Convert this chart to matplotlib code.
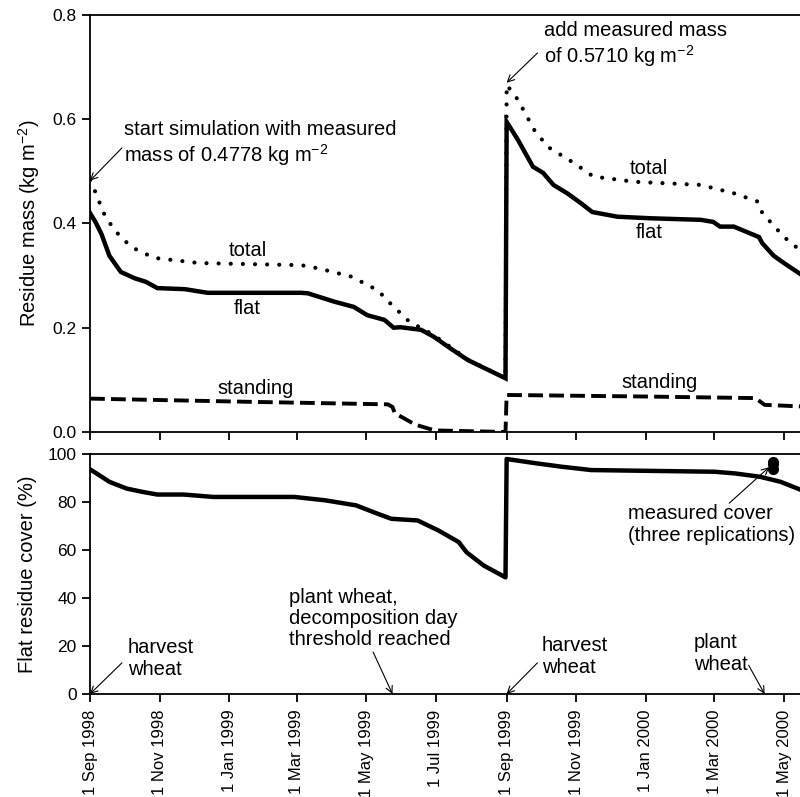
import numpy as np
import matplotlib
matplotlib.use("Agg")
import matplotlib.pyplot as plt
import matplotlib.dates as mdates

plt.rcParams['font.family'] = ['Liberation Sans', 'DejaVu Sans']
plt.rcParams['mathtext.fontset'] = 'custom'
plt.rcParams['mathtext.rm'] = 'Liberation Sans'
plt.rcParams['mathtext.it'] = 'Liberation Sans:italic'
plt.rcParams['mathtext.bf'] = 'Liberation Sans:bold'

# ---------------- data ----------------
flat_dates = ["1998-09-01", "1998-09-06", "1998-09-11", "1998-09-18", "1998-09-28", "1998-10-10",
              "1998-10-20", "1998-10-30", "1998-11-23", "1998-12-13", "1999-03-05", "1999-03-11",
              "1999-04-03", "1999-04-20", "1999-05-02", "1999-05-17", "1999-05-25", "1999-05-31",
              "1999-06-18", "1999-06-29", "1999-07-14", "1999-07-29", "1999-08-31", "1999-09-01",
              "1999-09-11", "1999-09-24", "1999-10-03", "1999-10-12", "1999-10-24", "1999-11-05",
              "1999-11-15", "1999-12-07", "2000-01-05", "2000-02-18", "2000-02-29", "2000-03-06",
              "2000-03-18", "2000-04-09", "2000-04-12", "2000-04-22", "2000-05-01", "2000-05-16"]
flat_mass = [0.420, 0.402, 0.380, 0.338, 0.307, 0.295,
             0.288, 0.276, 0.274, 0.267, 0.267, 0.266,
             0.250, 0.240, 0.224, 0.215, 0.200, 0.201,
             0.196, 0.183, 0.160, 0.138, 0.103, 0.595,
             0.560, 0.509, 0.497, 0.474, 0.458, 0.439,
             0.422, 0.413, 0.410, 0.407, 0.403, 0.394,
             0.394, 0.374, 0.362, 0.338, 0.324, 0.302]

total_dates = ["1998-09-01", "1998-09-05", "1998-09-13", "1998-09-22", "1998-10-07", "1998-10-27",
               "1998-12-06", "1999-03-05", "1999-03-20", "1999-04-18", "1999-05-11", "1999-05-25",
               "1999-05-31", "1999-06-09", "1999-06-18", "1999-06-29", "1999-07-29", "1999-08-31",
               "1999-09-01", "1999-09-11", "1999-09-25", "1999-10-07", "1999-10-30", "1999-11-16",
               "1999-12-22", "2000-02-18", "2000-03-18", "2000-04-08", "2000-04-12", "2000-05-01",
               "2000-05-16"]
total_mass = [0.483, 0.464, 0.420, 0.388, 0.355, 0.334,
              0.324, 0.320, 0.314, 0.298, 0.272, 0.240,
              0.228, 0.209, 0.200, 0.186, 0.139, 0.103,
              0.666, 0.637, 0.580, 0.547, 0.516, 0.490,
              0.480, 0.474, 0.458, 0.442, 0.420, 0.374,
              0.347]

standing_dates = ["1998-09-01", "1999-01-15", "1999-05-20", "1999-05-24", "1999-05-26", "1999-05-31",
                  "1999-06-13", "1999-06-30", "1999-08-31", "1999-09-01", "2000-01-01", "2000-04-06",
                  "2000-04-14", "2000-05-16"]
standing_mass = [0.064, 0.058, 0.053, 0.048, 0.036, 0.030,
                 0.014, 0.003, 0.000, 0.071, 0.068, 0.065,
                 0.052, 0.049]

cover_dates = ["1998-09-01", "1998-09-08", "1998-09-18", "1998-10-03", "1998-10-17", "1998-10-30",
               "1998-11-22", "1998-12-18", "1999-02-27", "1999-03-26", "1999-04-22", "1999-05-11",
               "1999-05-23", "1999-06-15", "1999-07-03", "1999-07-21", "1999-07-28", "1999-08-12",
               "1999-08-31", "1999-09-01", "1999-09-27", "1999-10-19", "1999-11-14", "1999-12-29",
               "2000-03-01", "2000-03-19", "2000-04-10", "2000-04-28", "2000-05-16"]
flat_cover = [93.6, 91.5, 88.4, 85.6, 84.2, 83.1,
              83.1, 82.1, 82.1, 80.7, 78.6, 75.1,
              73.0, 72.3, 68.2, 63.3, 59.0, 53.5,
              48.6, 97.9, 96.1, 94.7, 93.3, 93.0,
              92.6, 91.9, 90.5, 88.4, 85.0]

measured_dates = ["2000-04-21", "2000-04-21", "2000-04-21"]
measured_cover = [96.8, 96.0, 93.8]

tick_dates = ["1998-09-01", "1998-11-01", "1999-01-01", "1999-03-01", "1999-05-01", "1999-07-01",
              "1999-09-01", "1999-11-01", "2000-01-01", "2000-03-01", "2000-05-01"]
tick_labels = ["1 Sep 1998", "1 Nov 1998", "1 Jan 1999", "1 Mar 1999", "1 May 1999", "1 Jul 1999",
               "1 Sep 1999", "1 Nov 1999", "1 Jan 2000", "1 Mar 2000", "1 May 2000"]

mass_ticks = [0.0, 0.2, 0.4, 0.6, 0.8]
cover_ticks = [0, 20, 40, 60, 80, 100]

def d(s):
    return mdates.date2num(np.datetime64(s))

def dl(lst):
    return mdates.date2num(np.array(lst, dtype="datetime64[D]"))

# ---------------- figure ----------------
fig = plt.figure(figsize=(8.0, 7.97), dpi=100)
ax1 = fig.add_axes([0.1125, 0.4580, 0.8875, 0.5232])
ax2 = fig.add_axes([0.1125, 0.1292, 0.8875, 0.3012])

xmin, xmax = d("1998-09-01"), d("2000-05-15")

# top panel
ax1.plot(dl(total_dates), total_mass, color="black", lw=3.0,
         linestyle=(0, (0.01, 2.9)), dash_capstyle="round", solid_capstyle="round")
ax1.plot(dl(flat_dates), flat_mass, color="black", lw=3.2, solid_joinstyle="miter")
ax1.plot(dl(standing_dates), standing_mass, color="black", lw=2.8,
         linestyle=(0, (3.8, 1.6)), dash_capstyle="butt")

ax1.set_xlim(xmin, xmax)
ax1.set_ylim(0, 0.8)
ax1.set_yticks(mass_ticks)
ax1.set_yticklabels([f"{v:.1f}" for v in mass_ticks])
ax1.set_xticks(dl(tick_dates))
ax1.set_xticklabels([])
ax1.set_ylabel("Residue mass (kg m$^{-2}$)", fontsize=14.5, labelpad=8)

# bottom panel
ax2.plot(dl(cover_dates), flat_cover, color="black", lw=3.2)
ax2.plot(dl(measured_dates), measured_cover, "o", color="black", ms=7, clip_on=False)
ax2.set_xlim(xmin, xmax)
ax2.set_ylim(0, 100)
ax2.set_yticks(cover_ticks)
ax2.set_xticks(dl(tick_dates))
ax2.set_xticklabels(tick_labels, rotation=90)
ax2.set_ylabel("Flat residue cover (%)", fontsize=14.5, labelpad=8)

for ax in (ax1, ax2):
    ax.spines["right"].set_visible(False)
    for s in ("left", "top", "bottom"):
        ax.spines[s].set_linewidth(1.3)
    ax.tick_params(axis="both", direction="out", length=6, width=1.3, labelsize=12.5)
    ax.tick_params(axis="x", labelsize=12, pad=5)

FS = 14.5
# top annotations
arw = dict(arrowstyle="->", lw=0.8, color="black", shrinkA=0, shrinkB=0,
           mutation_scale=12)
ax1.annotate("", xy=(d("1998-09-01"), 0.482), xytext=(d("1998-09-29"), 0.545), arrowprops=arw)
ax1.text(d("1998-10-01"), 0.553, "start simulation with measured\nmass of 0.4778 kg m$^{-2}$",
         fontsize=FS, ha="left", va="center", linespacing=1.15)
ax1.annotate("", xy=(d("1999-09-01"), 0.670), xytext=(d("1999-09-28"), 0.727), arrowprops=arw)
ax1.text(d("1999-10-04"), 0.742, "add measured mass\nof 0.5710 kg m$^{-2}$",
         fontsize=FS, ha="left", va="center", linespacing=1.15)

ax1.text(d("1999-01-17"), 0.349, "total", fontsize=FS, ha="center", va="center")
ax1.text(d("1999-01-17"), 0.237, "flat", fontsize=FS, ha="center", va="center")
ax1.text(d("1999-01-24"), 0.084, "standing", fontsize=FS, ha="center", va="center")
ax1.text(d("2000-01-04"), 0.506, "total", fontsize=FS, ha="center", va="center")
ax1.text(d("2000-01-04"), 0.383, "flat", fontsize=FS, ha="center", va="center")
ax1.text(d("2000-01-13"), 0.094, "standing", fontsize=FS, ha="center", va="center")

# bottom annotations
ax2.annotate("", xy=(d("1998-09-01"), 0), xytext=(d("1998-09-29"), 13.0), arrowprops=arw)
ax2.text(d("1998-10-04"), 15.0, "harvest\nwheat", fontsize=FS, ha="left", va="center",
         linespacing=1.2)
ax2.annotate("", xy=(d("1999-05-24"), 0), xytext=(d("1999-05-07"), 17.5), arrowprops=arw)
ax2.text(d("1999-02-22"), 31.5, "plant wheat,\ndecomposition day\nthreshold reached",
         fontsize=FS, ha="left", va="center", linespacing=1.15)
ax2.annotate("", xy=(d("1999-09-01"), 0), xytext=(d("1999-09-28"), 13.0), arrowprops=arw)
ax2.text(d("1999-10-02"), 15.8, "harvest\nwheat", fontsize=FS, ha="left", va="center",
         linespacing=1.2)
ax2.annotate("", xy=(d("2000-04-14"), 0), xytext=(d("2000-03-31"), 12.0), arrowprops=arw)
ax2.text(d("2000-02-12"), 17.0, "plant\nwheat", fontsize=FS, ha="left", va="center",
         linespacing=1.2)
ax2.annotate("", xy=(d("2000-04-18"), 94.5), xytext=(d("2000-03-14"), 79.5), arrowprops=arw)
ax2.text(d("1999-12-16"), 70.5, "measured cover\n(three replications)",
         fontsize=FS, ha="left", va="center", linespacing=1.2)

fig.savefig("out.png", dpi=100)
